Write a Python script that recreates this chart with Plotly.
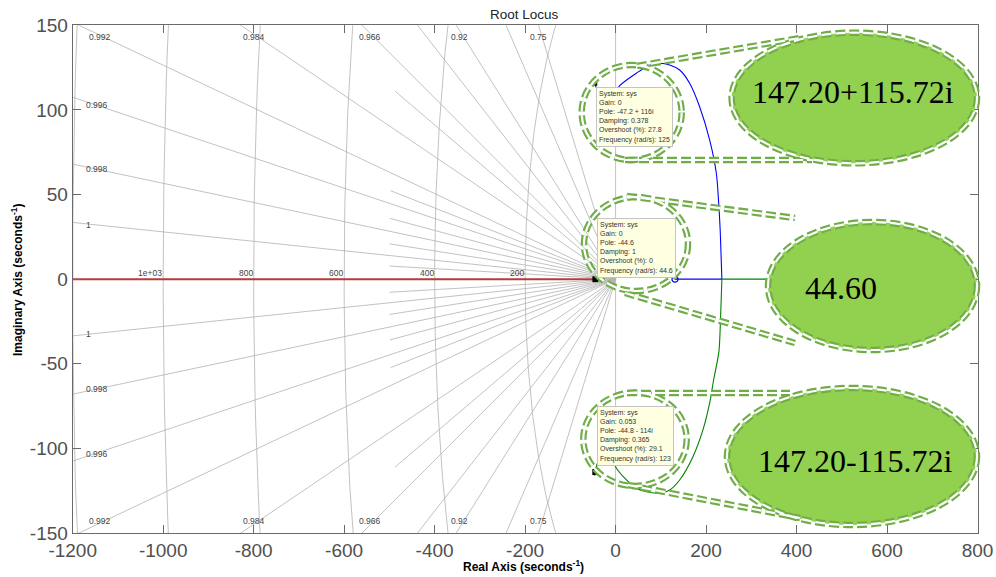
import numpy as np
import plotly.graph_objects as go

FIG_W, FIG_H = 996, 577
# axes box in pixels (left, right, top, bottom)
BOX_L, BOX_R, BOX_T, BOX_B = 72.7, 977.5, 25.3, 533.0

x_limits = [-1200, 800]
y_limits = [-150, 150]
x_tick_values = [-1200, -1000, -800, -600, -400, -200, 0, 200, 400, 600, 800]
y_tick_values = [-150, -100, -50, 0, 50, 100, 150]

# s-plane grid: natural-frequency circles and damping rays
freq_radii = [200, 400, 600, 800, 1000, 1200]
zeta_major = [0.99961, 0.9984, 0.99601, 0.9921, 0.984, 0.966, 0.92, 0.75]
zeta_minor = [0.99988, 0.99913, 0.99742, 0.99452, 0.975, 0.946, 0.85]
minor_reach = 500

# root-locus branches
red_re = [-44.6, -1200.0]
red_im = [0.0, 0.0]
blue_re = [-47.2, -30.0, -5.0, 9.1, 46.0, 71.6, 97.4, 119.5, 141.6, 163.7, 185.8, 207.9, 222.7, 228.4, 231.5, 235.0]
blue_im = [116.0, 108.0, 108.0, 114.3, 121.7, 126.0, 127.6, 126.6, 123.6, 115.8, 101.9, 82.3, 62.6, 42.8, 27.1, 0.0]
blue_axis_re = [235.0, 131.3]
green_re = [-47.2, -35.0, -10.0, 1.8, 46.0, 90.1, 119.5, 141.6, 171.0, 193.1, 207.9, 216.7, 228.4, 231.5, 235.0]
green_im = [-116.0, -106.0, -104.0, -111.7, -123.6, -126.5, -124.6, -118.7, -104.9, -89.1, -73.3, -59.6, -42.8, -27.1, 0.0]
green_axis_re = [235.0, 800.0]
zero_re = [131.3]
zero_im = [0.0]

# data tips
tip_re = [-47.2, -44.6, -44.8]
tip_im = [116.0, 0.0, -114.0]
tip_gain = ["0", "0", "0.053"]
tip_damping = ["0.378", "1", "0.365"]
tip_overshoot = ["27.8", "0", "29.1"]
tip_freq = ["125", "44.6", "123"]

# highlighted pole values
callout_texts = ["147.20+115.72i", "44.60", "147.20-115.72i"]

GRID = "#b2b2b2"
GREEN_LINE = "#70ad47"
GREEN_FILL = "#92d050"
DASH = "10px,4px"


def px(x):
    return x / FIG_W


def py(y):
    return 1 - y / FIG_H


fig = go.Figure()

# frequency circles (left half plane)
phi = np.linspace(np.pi / 2, 3 * np.pi / 2, 241)
cx, cy = [], []
for r in freq_radii:
    cx += list(r * np.cos(phi)) + [None]
    cy += list(r * np.sin(phi)) + [None]
fig.add_trace(go.Scatter(x=cx, y=cy, mode="lines", line=dict(color=GRID, width=0.8),
                         hoverinfo="skip", showlegend=False))

# damping rays
rx, ry = [], []
for z in zeta_major:
    th = np.arccos(z)
    for s in (1, -1):
        rx += [0, -3000 * np.cos(th), None]
        ry += [0, s * 3000 * np.sin(th), None]
for z in zeta_minor:
    th = np.arccos(z)
    for s in (1, -1):
        rx += [0, -minor_reach * np.cos(th), None]
        ry += [0, s * minor_reach * np.sin(th), None]
rx += [0, 0, None]
ry += [y_limits[0], y_limits[1], None]
fig.add_trace(go.Scatter(x=rx, y=ry, mode="lines", line=dict(color=GRID, width=0.8),
                         hoverinfo="skip", showlegend=False))

# locus branches
fig.add_trace(go.Scatter(x=red_re, y=red_im, mode="lines", line=dict(color="#b83a3a", width=2),
                         hoverinfo="skip", showlegend=False))
fig.add_trace(go.Scatter(x=blue_re, y=blue_im, mode="lines", line=dict(color="#0000ff", width=1.1, shape="spline", smoothing=0.8),
                         hoverinfo="skip", showlegend=False))
fig.add_trace(go.Scatter(x=blue_axis_re, y=[0, 0], mode="lines", line=dict(color="#0000ff", width=1.1),
                         hoverinfo="skip", showlegend=False))
fig.add_trace(go.Scatter(x=green_re, y=green_im, mode="lines", line=dict(color="#008000", width=1.1, shape="spline", smoothing=0.8),
                         hoverinfo="skip", showlegend=False))
fig.add_trace(go.Scatter(x=green_axis_re, y=[0, 0], mode="lines", line=dict(color="#008000", width=1.1),
                         hoverinfo="skip", showlegend=False))
fig.add_trace(go.Scatter(x=zero_re, y=zero_im, mode="markers",
                         marker=dict(symbol="circle-open", size=6, color="#0000ff", line=dict(width=1.2)),
                         hoverinfo="skip", showlegend=False))
fig.add_trace(go.Scatter(x=tip_re, y=tip_im, mode="markers",
                         marker=dict(symbol="square", size=6, color="black"),
                         hoverinfo="skip", showlegend=False))

annotations = []
grid_font = dict(family="Liberation Sans, Arial", size=8.5, color="#444444")

# damping labels
for z in zeta_major:
    slope = np.tan(np.arccos(z))
    label = f"{z:.3g}"
    for s in (1, -1):
        if slope * abs(x_limits[0]) < y_limits[1]:
            annotations.append(dict(x=-1175, y=s * slope * 1150, text=label, showarrow=False,
                                    xanchor="left", yanchor="middle", font=grid_font))
        else:
            yl = 143
            annotations.append(dict(x=-yl / slope, y=s * yl, text=label, showarrow=False,
                                    xanchor="center", yanchor="middle", xshift=-4, font=grid_font))

# frequency labels
for r in freq_radii:
    if -r > x_limits[0]:
        annotations.append(dict(x=-r, y=0, text=f"{r:.3g}", showarrow=False, xanchor="right",
                                yanchor="bottom", xshift=1, yshift=-1, font=grid_font))

# data tips
tip_anchor = [("top", 2, -3.7), ("bottom", 1.6, 1), ("bottom", 1.7, 6)]
for i in range(3):
    if tip_im[i] > 0:
        pole = f"{tip_re[i]:g} + {tip_im[i]:g}i"
    elif tip_im[i] < 0:
        pole = f"{tip_re[i]:g} - {abs(tip_im[i]):g}i"
    else:
        pole = f"{tip_re[i]:g}"
    lines = ["System: sys", f"Gain: {tip_gain[i]}", f"Pole: {pole}", f"Damping: {tip_damping[i]}",
             f"Overshoot (%): {tip_overshoot[i]}", f"Frequency (rad/s): {tip_freq[i]}"]
    ya, xs, ys = tip_anchor[i]
    annotations.append(dict(x=tip_re[i], y=tip_im[i], text="<br>".join(lines), showarrow=False,
                            xanchor="left", yanchor=ya, xshift=xs, yshift=ys, align="left",
                            bgcolor="#ffffe1", bordercolor="#c4c4c4", borderwidth=1, borderpad=2,
                            font=dict(family="Liberation Sans, Arial", size=7, color="#333333")))

# callout geometry in pixels
callouts = [
    dict(small=(631.7, 112.5, 50, 47.5), big=(854.3, 98.0, 122.7, 65.3), text=(852.7, 91.7),
         links=[((637, 66), (800, 38)), ((625, 160), (812, 160))]),
    dict(small=(636.0, 244.0, 52, 47), big=(872.5, 286.0, 104.5, 64.0), text=(841.0, 288.0),
         links=[((627, 196), (795, 218)), ((625, 293), (795, 343))]),
    dict(small=(635.0, 439.3, 51.7, 46.7), big=(852.0, 456.5, 125.0, 68.5), text=(855.0, 461.0),
         links=[((627, 393), (790, 393)), ((628, 485), (800, 518))]),
]

shapes = []


def ellipse(cx, cy, ax, ay, **kw):
    return dict(type="circle", xref="paper", yref="paper", layer="above",
                x0=px(cx - ax), x1=px(cx + ax), y0=py(cy + ay), y1=py(cy - ay), **kw)


for c, txt in zip(callouts, callout_texts):
    bx, by, bax, bay = c["big"]
    shapes.append(ellipse(bx, by, bax, bay, fillcolor=GREEN_FILL, line=dict(width=0)))
    for color, width in ((GREEN_LINE, 6.5), ("white", 2.2)):
        shapes.append(ellipse(*c["small"], line=dict(color=color, width=width, dash=DASH)))
        shapes.append(ellipse(bx, by, bax, bay, line=dict(color=color, width=width, dash=DASH)))
        for (x0, y0), (x1, y1) in c["links"]:
            shapes.append(dict(type="line", xref="paper", yref="paper", layer="above",
                               x0=px(x0), y0=py(y0), x1=px(x1), y1=py(y1),
                               line=dict(color=color, width=width, dash=DASH)))
    tx, ty = c["text"]
    annotations.append(dict(xref="paper", yref="paper", x=px(tx), y=py(ty), text=txt, showarrow=False,
                            xanchor="center", yanchor="middle",
                            font=dict(family="Liberation Serif, Times New Roman", size=32, color="black")))

# titles
annotations.append(dict(xref="paper", yref="paper", x=px(524.5), y=py(14), text="Root Locus", showarrow=False,
                        xanchor="center", yanchor="middle",
                        font=dict(family="Liberation Sans, Arial", size=13.5, color="#222222")))
annotations.append(dict(xref="paper", yref="paper", x=px(523), y=py(566), text="<b>Real Axis (seconds<sup>-1</sup>)</b>",
                        showarrow=False, xanchor="center", yanchor="middle",
                        font=dict(family="Liberation Sans, Arial", size=12, color="black")))
annotations.append(dict(xref="paper", yref="paper", x=px(17), y=py(280), text="<b>Imaginary Axis (seconds<sup>-1</sup>)</b>",
                        showarrow=False, xanchor="center", yanchor="middle", textangle=-90,
                        font=dict(family="Liberation Sans, Arial", size=12, color="black")))

axis_common = dict(showgrid=False, zeroline=False, showline=True, linecolor="#6a6a6a", linewidth=1,
                   mirror="ticks", ticks="inside", ticklen=8, tickcolor="#6a6a6a", tickwidth=1,
                   tickfont=dict(family="Liberation Sans, Arial", size=19, color="#505050"),
                   fixedrange=True, automargin=False)

fig.update_layout(
    width=FIG_W, height=FIG_H,
    margin=dict(l=0, r=0, t=0, b=0, autoexpand=False),
    paper_bgcolor="white", plot_bgcolor="white",
    xaxis=dict(range=x_limits, domain=[BOX_L / FIG_W, BOX_R / FIG_W], tickmode="array",
               tickvals=x_tick_values, ticktext=[str(v) for v in x_tick_values], **axis_common),
    yaxis=dict(range=y_limits, domain=[1 - BOX_B / FIG_H, 1 - BOX_T / FIG_H], tickmode="array",
               tickvals=y_tick_values, ticktext=[str(v) for v in y_tick_values], **axis_common),
    annotations=annotations,
    shapes=shapes,
)

fig.write_html("out.html")
